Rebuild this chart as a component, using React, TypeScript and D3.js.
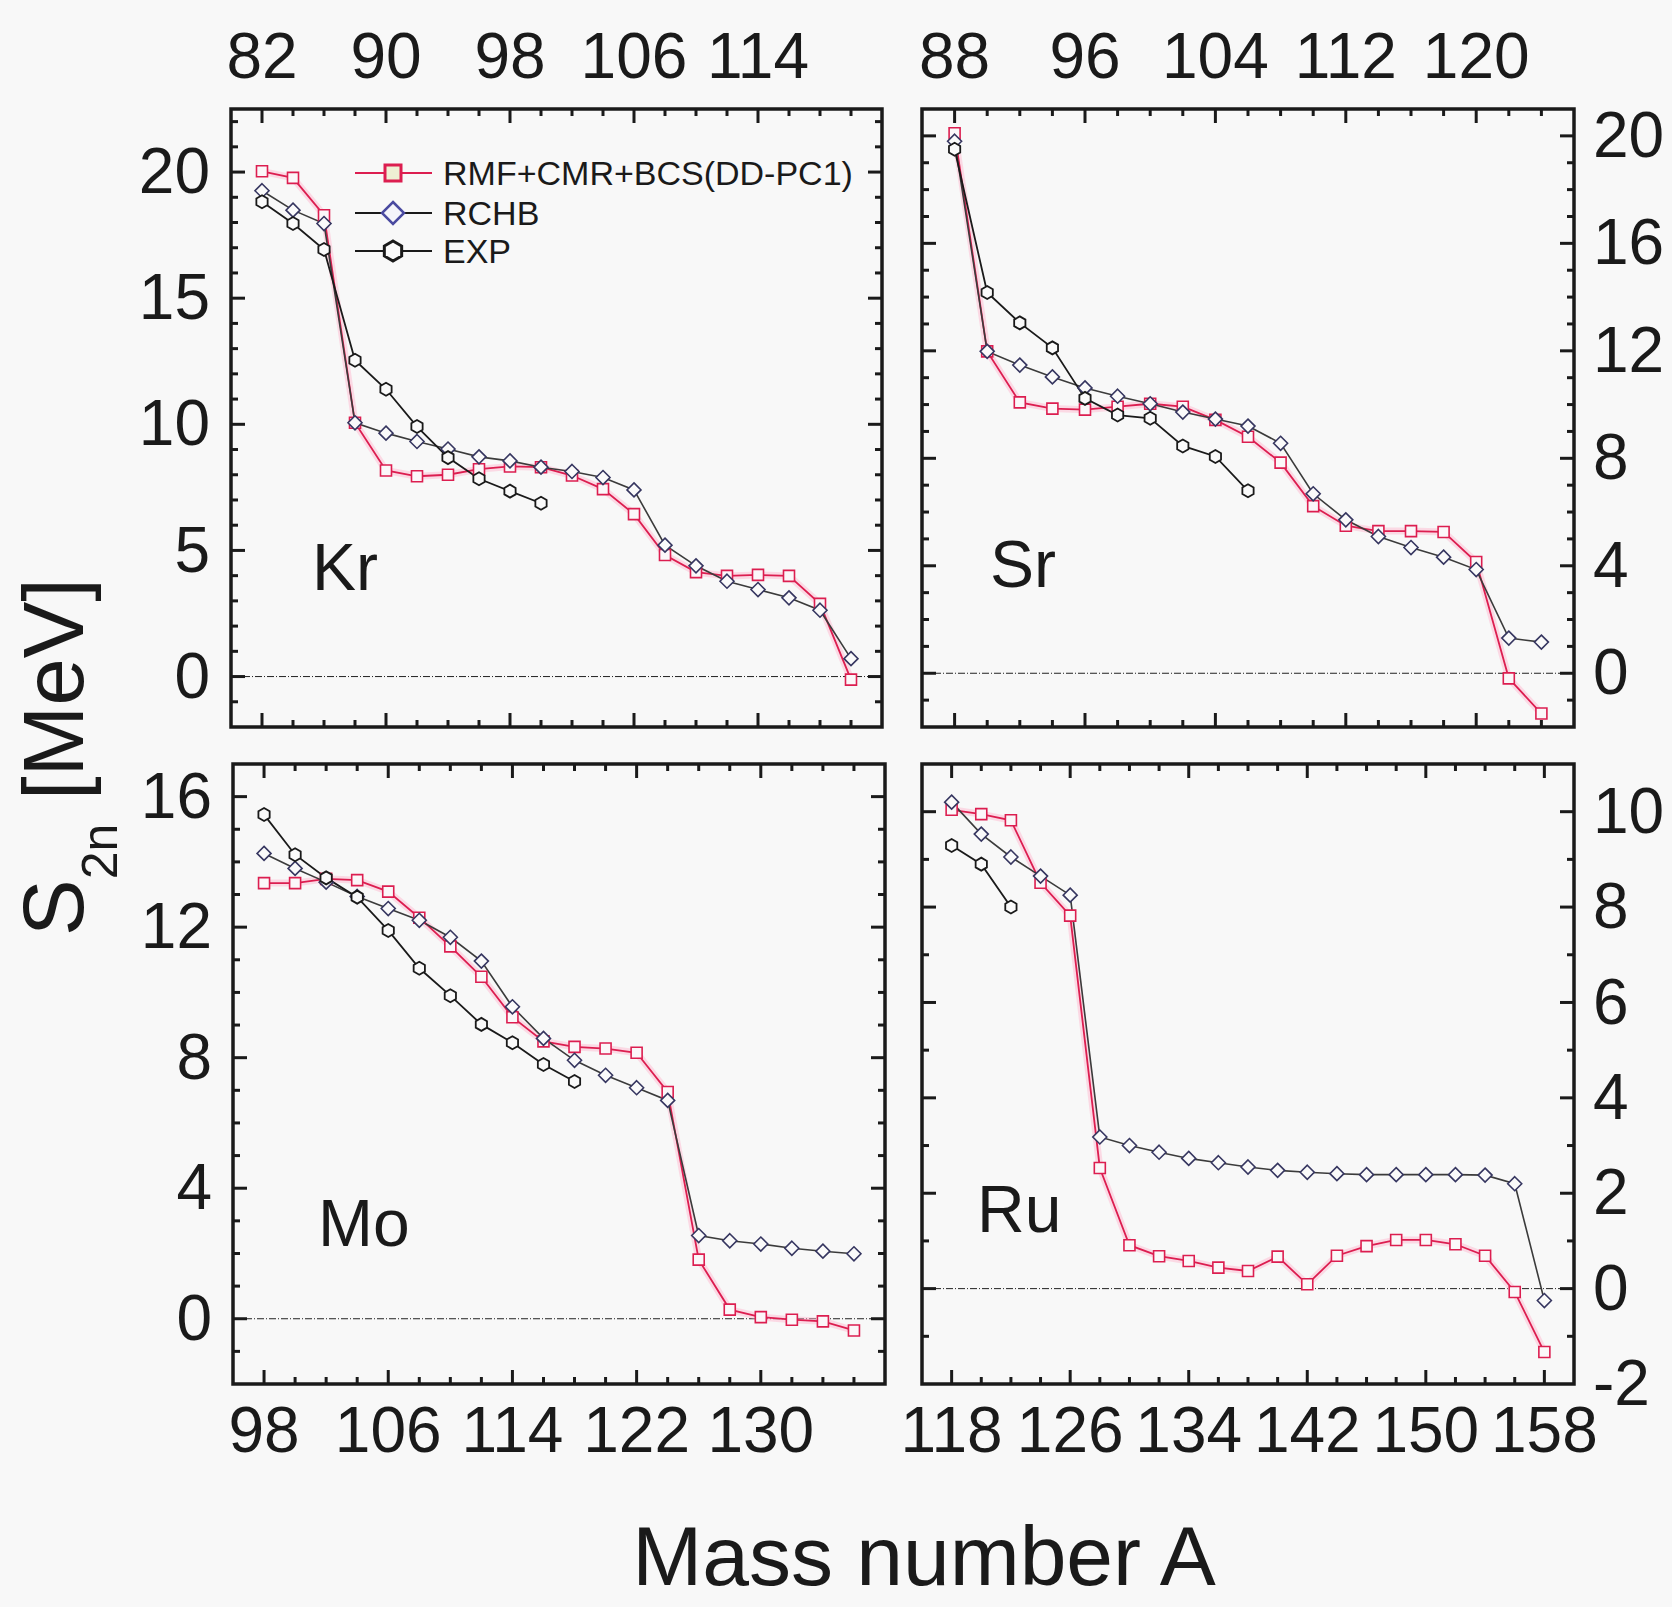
import * as React from "react";
import * as d3 from "d3";

// ---- data (S2n in MeV) ----
const krMass = [82, 84, 86, 88, 90, 92, 94, 96, 98, 100, 102, 104, 106, 108, 110, 112, 114, 116, 118, 120];
const krRmf = [20.03, 19.77, 18.29, 10.06, 8.17, 7.94, 8.0, 8.22, 8.33, 8.3, 7.97, 7.43, 6.44, 4.82, 4.14, 3.99, 4.03, 3.99, 2.88, -0.12];
const krRchb = [19.26, 18.49, 17.96, 10.06, 9.65, 9.32, 9.02, 8.71, 8.55, 8.3, 8.13, 7.89, 7.4, 5.21, 4.39, 3.78, 3.45, 3.12, 2.63, 0.71];
const krExp = [18.82, 17.96, 16.93, 12.54, 11.39, 9.91, 8.68, 7.84, 7.35, 6.87];

const srMass = [88, 90, 92, 94, 96, 98, 100, 102, 104, 106, 108, 110, 112, 114, 116, 118, 120, 122, 124];
const srRmf = [20.1, 11.98, 10.08, 9.85, 9.81, 9.92, 10.03, 9.92, 9.43, 8.8, 7.84, 6.22, 5.49, 5.29, 5.29, 5.26, 4.14, -0.19, -1.5];
const srRchb = [19.8, 11.98, 11.47, 11.03, 10.62, 10.31, 10.03, 9.72, 9.46, 9.2, 8.56, 6.68, 5.71, 5.09, 4.68, 4.32, 3.86, 1.31, 1.16];
const srExp = [19.5, 14.17, 13.04, 12.11, 10.23, 9.61, 9.49, 8.46, 8.07, 6.79];

const moMass = [98, 100, 102, 104, 106, 108, 110, 112, 114, 116, 118, 120, 122, 124, 126, 128, 130, 132, 134, 136];
const moRmf = [13.35, 13.35, 13.48, 13.44, 13.09, 12.29, 11.41, 10.48, 9.24, 8.5, 8.33, 8.28, 8.15, 6.95, 1.81, 0.28, 0.05, -0.03, -0.08, -0.36];
const moRchb = [14.26, 13.8, 13.38, 12.94, 12.57, 12.21, 11.69, 10.96, 9.56, 8.59, 7.92, 7.46, 7.08, 6.69, 2.55, 2.39, 2.29, 2.16, 2.07, 1.99];
const moExp = [15.45, 14.22, 13.51, 12.92, 11.9, 10.74, 9.9, 9.02, 8.46, 7.79, 7.27];

const ruMass = [118, 120, 122, 124, 126, 128, 130, 132, 134, 136, 138, 140, 142, 144, 146, 148, 150, 152, 154, 156, 158];
const ruRmf = [10.04, 9.95, 9.82, 8.51, 7.82, 2.53, 0.91, 0.68, 0.58, 0.44, 0.37, 0.67, 0.09, 0.69, 0.89, 1.02, 1.02, 0.93, 0.69, -0.07, -1.33];
const ruRchb = [10.2, 9.53, 9.05, 8.65, 8.25, 3.18, 3.0, 2.86, 2.73, 2.64, 2.55, 2.48, 2.44, 2.41, 2.39, 2.39, 2.39, 2.39, 2.38, 2.2, -0.25];
const ruExp = [9.29, 8.9, 8.0];

// tick labels
const krXLabels = [82, 90, 98, 106, 114];
const srXLabels = [88, 96, 104, 112, 120];
const moXLabels = [98, 106, 114, 122, 130];
const ruXLabels = [118, 126, 134, 142, 150, 158];
const krYLabels = [0, 5, 10, 15, 20];
const srYLabels = [0, 4, 8, 12, 16, 20];
const moYLabels = [0, 4, 8, 12, 16];
const ruYLabels = [-2, 0, 2, 4, 6, 8, 10];

const legendNames = ["RMF+CMR+BCS(DD-PC1)", "RCHB", "EXP"];

const W = 1672;
const H = 1607;
const FONT = "'Liberation Sans', Arial, Helvetica, sans-serif";
const INK = "#1a1a1a";
const RED = "#dc1e50";
const GREY = "#3b3b3b";
const DIA = "#363660";

interface PanelSpec {
  element: string;
  mass: number[];
  rmf: number[];
  rchb: number[];
  exp: number[];
  box: [number, number, number, number]; // left, top, right, bottom
  xDomain: [number, number];
  yDomain: [number, number];
  xLabels: number[];
  yLabels: number[];
  xSide: "top" | "bottom";
  ySide: "left" | "right";
  tag: [number, number];
  legend?: boolean;
}

const panels: PanelSpec[] = [
  {
    element: "Kr", mass: krMass, rmf: krRmf, rchb: krRchb, exp: krExp,
    box: [231, 109, 882, 727], xDomain: [80, 122], yDomain: [-2, 22.5],
    xLabels: krXLabels, yLabels: krYLabels, xSide: "top", ySide: "left",
    tag: [312, 590], legend: true,
  },
  {
    element: "Sr", mass: srMass, rmf: srRmf, rchb: srRchb, exp: srExp,
    box: [922, 109, 1574, 727], xDomain: [86, 126], yDomain: [-2, 21],
    xLabels: srXLabels, yLabels: srYLabels, xSide: "top", ySide: "right",
    tag: [990, 587],
  },
  {
    element: "Mo", mass: moMass, rmf: moRmf, rchb: moRchb, exp: moExp,
    box: [233, 764, 885, 1384], xDomain: [96, 138], yDomain: [-2, 17],
    xLabels: moXLabels, yLabels: moYLabels, xSide: "bottom", ySide: "left",
    tag: [318, 1246],
  },
  {
    element: "Ru", mass: ruMass, rmf: ruRmf, rchb: ruRchb, exp: ruExp,
    box: [922, 764, 1574, 1384], xDomain: [116, 160], yDomain: [-2, 11],
    xLabels: ruXLabels, yLabels: ruYLabels, xSide: "bottom", ySide: "right",
    tag: [977, 1232],
  },
];

// marker paths centred on 0,0
const squarePath = (s: number) => `M${-s},${-s}H${s}V${s}H${-s}Z`;
const diamondPath = (s: number) => `M0,${-s}L${s},0L0,${s}L${-s},0Z`;
const hexPath = (r: number) => {
  const pts = d3.range(6).map((k) => {
    const a = (Math.PI / 3) * k - Math.PI / 2;
    return [r * Math.cos(a), r * Math.sin(a)];
  });
  return "M" + pts.map((p) => p.join(",")).join("L") + "Z";
};

const Panel: React.FC<{ p: PanelSpec }> = ({ p }) => {
  const [l, t, r, b] = p.box;
  const x = d3.scaleLinear().domain(p.xDomain).range([l, r]);
  const y = d3.scaleLinear().domain(p.yDomain).range([b, t]);

  const line = d3
    .line<[number, number]>()
    .x((d) => x(d[0]))
    .y((d) => y(d[1]));

  const rmfPts = p.mass.map((m, i) => [m, p.rmf[i]] as [number, number]);
  const rchbPts = p.mass.map((m, i) => [m, p.rchb[i]] as [number, number]);
  const expPts = p.exp.map((v, i) => [p.mass[i], v] as [number, number]);

  const xMinor = d3.range(p.xDomain[0] + 2, p.xDomain[1], 2).filter((v) => !p.xLabels.includes(v));
  const yMinor = d3
    .range(Math.ceil(p.yDomain[0]) + 1, p.yDomain[1], 1)
    .filter((v) => !p.yLabels.includes(v));
  const yMajorIn = p.yLabels.filter((v) => v > p.yDomain[0] && v < p.yDomain[1]);

  const major = 14;
  const minor = 7;
  const tickStyle = { stroke: INK, strokeWidth: 3 };

  return (
    <g>
      {/* zero line */}
      <line x1={l} x2={r} y1={y(0)} y2={y(0)} stroke="#222" strokeWidth={1} strokeDasharray="7 2 1 2" />

      {/* ticks */}
      {p.xLabels.map((v) => (
        <g key={"xM" + v}>
          <line x1={x(v)} x2={x(v)} y1={t} y2={t + major} {...tickStyle} />
          <line x1={x(v)} x2={x(v)} y1={b} y2={b - major} {...tickStyle} />
        </g>
      ))}
      {xMinor.map((v) => (
        <g key={"xm" + v}>
          <line x1={x(v)} x2={x(v)} y1={t} y2={t + minor} {...tickStyle} />
          <line x1={x(v)} x2={x(v)} y1={b} y2={b - minor} {...tickStyle} />
        </g>
      ))}
      {yMajorIn.map((v) => (
        <g key={"yM" + v}>
          <line x1={l} x2={l + major} y1={y(v)} y2={y(v)} {...tickStyle} />
          <line x1={r} x2={r - major} y1={y(v)} y2={y(v)} {...tickStyle} />
        </g>
      ))}
      {yMinor.map((v) => (
        <g key={"ym" + v}>
          <line x1={l} x2={l + minor} y1={y(v)} y2={y(v)} {...tickStyle} />
          <line x1={r} x2={r - minor} y1={y(v)} y2={y(v)} {...tickStyle} />
        </g>
      ))}

      {/* series lines */}
      <path d={line(rmfPts) || undefined} fill="none" stroke="#ffb3cc" strokeOpacity={0.45} strokeWidth={7} />
      <path d={line(rmfPts) || undefined} fill="none" stroke={RED} strokeWidth={1.8} />
      <path d={line(rchbPts) || undefined} fill="none" stroke={GREY} strokeWidth={1.6} />
      <path d={line(expPts) || undefined} fill="none" stroke={INK} strokeWidth={1.8} />

      {/* markers */}
      {rmfPts.map((d, i) => (
        <path key={"s" + i} d={squarePath(5.5)} transform={`translate(${x(d[0])},${y(d[1])})`}
          fill="#fbf7f9" stroke={RED} strokeWidth={1.6} />
      ))}
      {rchbPts.map((d, i) => (
        <path key={"d" + i} d={diamondPath(7)} transform={`translate(${x(d[0])},${y(d[1])})`}
          fill="#fafafa" stroke={DIA} strokeWidth={1.6} />
      ))}
      {expPts.map((d, i) => (
        <path key={"h" + i} d={hexPath(6.5)} transform={`translate(${x(d[0])},${y(d[1])})`}
          fill="#fafafa" stroke={INK} strokeWidth={1.8} />
      ))}

      {/* frame */}
      <rect x={l} y={t} width={r - l} height={b - t} fill="none" stroke={INK} strokeWidth={3.5} />

      {/* tick labels */}
      {p.xLabels.map((v) => (
        <text key={"xl" + v} x={x(v)} y={p.xSide === "top" ? t - 31 : b + 68}
          textAnchor="middle" fontSize={64} fill={INK}>{v}</text>
      ))}
      {p.yLabels.map((v) => (
        <text key={"yl" + v} x={p.ySide === "left" ? l - 21 : r + 19} y={y(v)} dy="0.33em"
          textAnchor={p.ySide === "left" ? "end" : "start"} fontSize={64} fill={INK}>{v}</text>
      ))}

      {/* element tag */}
      <text x={p.tag[0]} y={p.tag[1]} fontSize={66} fill={INK}>{p.element}</text>

      {p.legend && (
        <g>
          {legendNames.map((name, i) => {
            const ly = [173, 213, 251][i];
            return (
              <g key={name}>
                <line x1={355} x2={432} y1={ly} y2={ly} stroke={i === 0 ? RED : INK} strokeWidth={1.8} />
                {i === 0 && (
                  <path d={squarePath(8)} transform={`translate(393,${ly})`} fill="#eef0d4" stroke={RED} strokeWidth={3} />
                )}
                {i === 1 && (
                  <path d={diamondPath(11)} transform={`translate(393,${ly})`} fill="#f4f4fa" stroke="#4a4aa0" strokeWidth={2.5} />
                )}
                {i === 2 && (
                  <path d={hexPath(10)} transform={`translate(393,${ly})`} fill="#fafafa" stroke={INK} strokeWidth={3} />
                )}
                <text x={443} y={ly} dy="0.36em" fontSize={34} fill={INK}>{name}</text>
              </g>
            );
          })}
        </g>
      )}
    </g>
  );
};

const App: React.FC = () => {
  return (
    <svg
      width={W}
      height={H}
      viewBox={`0 0 ${W} ${H}`}
      style={{ position: "absolute", left: 0, top: 0 }}
      fontFamily={FONT}
    >
      <rect width={W} height={H} fill="#f8f8f8" />
      {panels.map((p) => (
        <Panel key={p.element} p={p} />
      ))}
      <text transform="translate(83,757) rotate(-90)" textAnchor="middle" fontSize={85} fill={INK}>
        S<tspan fontSize={50} dy={34}>2n</tspan>
        <tspan dy={-34}> [MeV]</tspan>
      </text>
      <text x={924} y={1585} textAnchor="middle" fontSize={84} fill={INK}>
        Mass number A
      </text>
    </svg>
  );
};

export default App;
